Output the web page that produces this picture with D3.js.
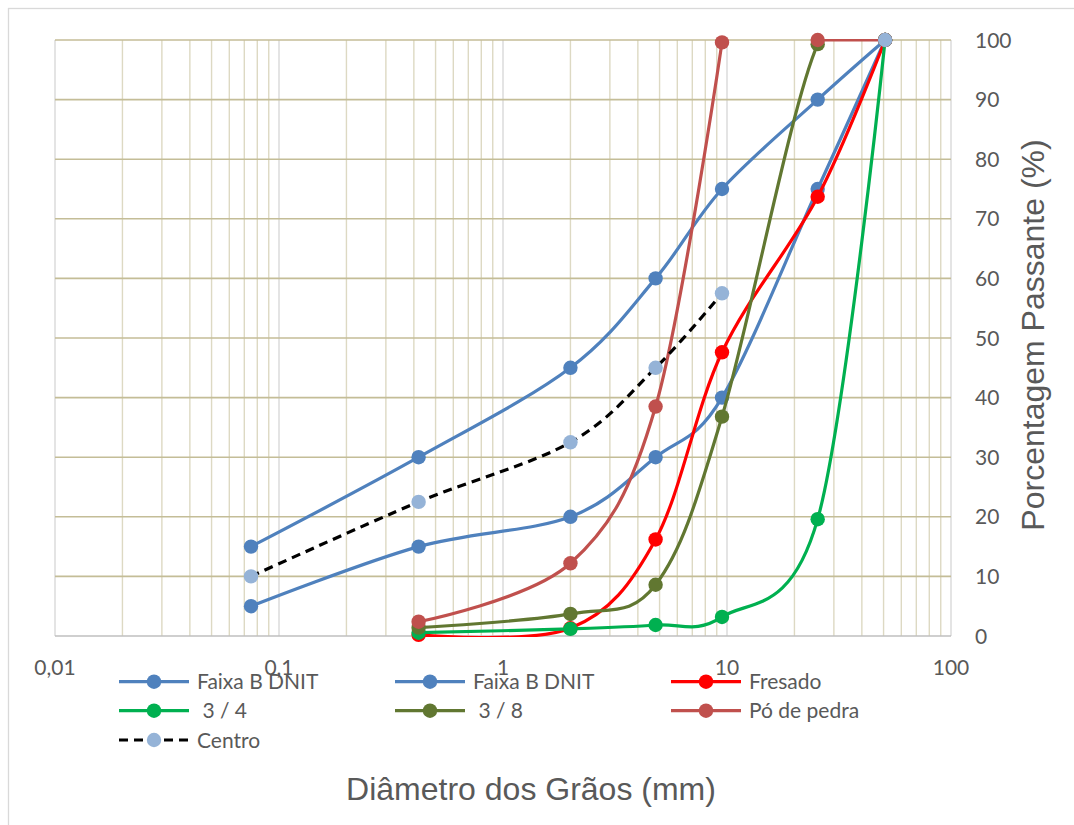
<!DOCTYPE html>
<html><head><meta charset="utf-8">
<script src="https://cdn.jsdelivr.net/npm/d3@7"></script>
<style>body{margin:0;background:#fff}svg{display:block}text{white-space:pre}</style>
</head><body>
<svg id="c" width="1074" height="825"></svg>
<script>
// ---- data ----
const sieves = [0.075, 0.42, 2.0, 4.8, 9.5, 25.4, 50.8];
const sievesNo200 = [0.42, 2.0, 4.8, 9.5, 25.4, 50.8];
const sievesPo = [0.42, 2.0, 4.8, 9.5, 12.7, 25.4, 50.8];
const faixaSup = [15, 30, 45, 60, 75, 90, 100];
const faixaInf = [5, 15, 20, 30, 40, 75, 100];
const fresado = [0.2, 1.3, 16.2, 47.6, 73.7, 100];
const tresQuartos = [0.55, 1.2, 1.85, 3.2, 19.6, 100];
const tresOitavos = [1.4, 3.7, 8.6, 36.8, 99.3, 100];
const poDePedra = [2.4, 12.2, 38.5, 99.6, null, 100, 100];
const centro = [10, 22.5, 32.5, 45, 57.5, null, 100];
const xTicks = [0.01, 0.1, 1, 10, 100];
const xTickLabels = ["0,01", "0,1", "1", "10", "100"];
const yTicks = [0, 10, 20, 30, 40, 50, 60, 70, 80, 90, 100];

const series = [
  {name: "Faixa B DNIT", x: sieves, y: faixaSup, color: "#4F81BD", mcolor: "#4F81BD", dash: null},
  {name: "Faixa B DNIT", x: sieves, y: faixaInf, color: "#4F81BD", mcolor: "#4F81BD", dash: null},
  {name: "Fresado", x: sievesNo200, y: fresado, color: "#FF0000", mcolor: "#FF0000", dash: null},
  {name: " 3 / 4", x: sievesNo200, y: tresQuartos, color: "#00B050", mcolor: "#00B050", dash: null},
  {name: " 3 / 8", x: sievesNo200, y: tresOitavos, color: "#617731", mcolor: "#617731", dash: null},
  {name: "Pó de pedra", x: sievesPo, y: poDePedra, color: "#C0504D", mcolor: "#C0504D", dash: null},
  {name: "Centro", x: sieves, y: centro, color: "#000000", mcolor: "#95B3D7", dash: "9,6"}
];

const svg = d3.select("#c");
const L = 55, R = 951, T = 40, B = 636;
const x = d3.scaleLog().domain([0.01, 100]).range([L, R]);
const y = d3.scaleLinear().domain([0, 100]).range([B, T]);

svg.append("rect").attr("x", 8.5).attr("y", 8.5).attr("width", 1100).attr("height", 900)
  .attr("fill", "#fff").attr("stroke", "#D9D9D9").attr("stroke-width", 1.3);
svg.append("clipPath").attr("id", "plotclip").append("rect")
  .attr("x", L).attr("y", T - 1).attr("width", R - L).attr("height", B - T + 2);

// grid
const g = svg.append("g");
const minor = [];
for (let e = -2; e < 2; e++) for (let k = 2; k <= 9; k++) minor.push(k * Math.pow(10, e));
g.selectAll(".vmin").data(minor).enter().append("line")
  .attr("x1", d => x(d)).attr("x2", d => x(d)).attr("y1", T).attr("y2", B)
  .attr("stroke", "#DDD9C3").attr("stroke-width", 1.4);
g.selectAll(".vmaj").data(xTicks).enter().append("line")
  .attr("x1", d => x(d)).attr("x2", d => x(d)).attr("y1", T).attr("y2", B)
  .attr("stroke", "#D9D9D9").attr("stroke-width", 1.4);
g.selectAll(".h").data(yTicks.filter(d => d > 0)).enter().append("line")
  .attr("x1", L).attr("x2", R).attr("y1", d => y(d)).attr("y2", d => y(d))
  .attr("stroke", "#C4BD97").attr("stroke-width", 1.6);
g.append("line").attr("x1", L).attr("x2", R).attr("y1", B).attr("y2", B)
  .attr("stroke", "#BFBFBF").attr("stroke-width", 1.6);

// tick labels
const font = "Lato, 'Open Sans', sans-serif";
svg.selectAll(".xt").data(xTicks).enter().append("text")
  .attr("x", d => x(d)).attr("y", 675).attr("text-anchor", "middle")
  .attr("font-family", font).attr("font-size", 21).attr("fill", "#595959")
  .text((d, i) => xTickLabels[i]);
svg.selectAll(".yt").data(yTicks).enter().append("text")
  .attr("x", 975).attr("y", d => y(d) + 7.5).attr("text-anchor", "start")
  .attr("font-family", font).attr("font-size", 21).attr("fill", "#595959")
  .text(d => d);

// series
const line = d3.line()
  .defined(d => d.v !== null)
  .x(d => x(d.s)).y(d => y(d.v))
  .curve(d3.curveCatmullRom.alpha(0));
series.forEach(s => {
  const pts = s.x.map((xx, i) => ({s: xx, v: s.y[i]}));
  const gs = svg.append("g");
  gs.append("path").datum(pts).attr("d", line).attr("fill", "none")
    .attr("clip-path", "url(#plotclip)")
    .attr("stroke", s.color).attr("stroke-width", 3.2)
    .attr("stroke-dasharray", s.dash);
  gs.selectAll("circle").data(pts.filter(d => d.v !== null)).enter().append("circle")
    .attr("cx", d => x(d.s)).attr("cy", d => y(d.v)).attr("r", 7.2)
    .attr("fill", s.mcolor);
});

// legend
const colX = [154, 430, 706], rowY = [681.7, 710.7, 740];
series.forEach((s, i) => {
  const cx = colX[i % 3], cy = rowY[Math.floor(i / 3)];
  const lg = svg.append("g");
  lg.append("line").attr("x1", cx - 35).attr("x2", cx + 35).attr("y1", cy).attr("y2", cy)
    .attr("stroke", s.color).attr("stroke-width", 3.2).attr("stroke-dasharray", s.dash);
  lg.append("circle").attr("cx", cx).attr("cy", cy).attr("r", 7.2).attr("fill", s.mcolor);
  lg.append("text").attr("x", cx + 43).attr("y", cy + 7.5)
    .attr("font-family", font).attr("font-size", 21).attr("fill", "#595959").text(s.name);
});

// axis titles
svg.append("text").attr("x", 531).attr("y", 800).attr("text-anchor", "middle")
  .attr("font-family", "'Liberation Sans', Arial, sans-serif").attr("font-size", 32)
  .attr("fill", "#595959").text("Diâmetro dos Grãos (mm)");
svg.append("text").attr("transform", "translate(1044,335) rotate(-90)").attr("text-anchor", "middle")
  .attr("font-family", "'Liberation Sans', Arial, sans-serif").attr("font-size", 32)
  .attr("fill", "#595959").text("Porcentagem Passante (%)");
</script>
</body></html>
